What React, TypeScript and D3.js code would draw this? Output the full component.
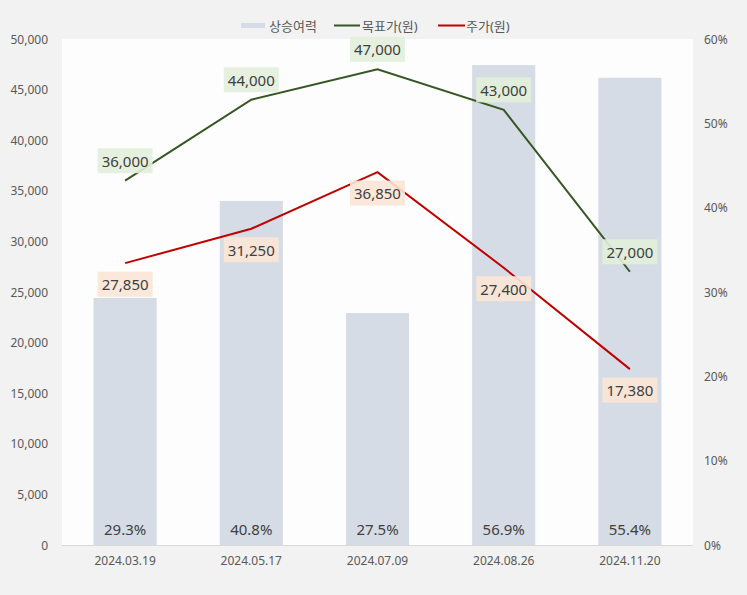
import React from "react";
import * as d3 from "d3";

const categories = ["2024.03.19", "2024.05.17", "2024.07.09", "2024.08.26", "2024.11.20"];
const upside = [29.3, 40.8, 27.5, 56.9, 55.4];
const targetPrice = [36000, 44000, 47000, 43000, 27000];
const stockPrice = [27850, 31250, 36850, 27400, 17380];
const leftTicks = [0, 5000, 10000, 15000, 20000, 25000, 30000, 35000, 40000, 45000, 50000];
const rightTicks = [0, 10, 20, 30, 40, 50, 60];

const W = 747, H = 595;
const M = { left: 62, right: 693, top: 39, bottom: 545 };
const FONT = "'Noto Sans', 'Noto Sans CJK KR', sans-serif";

export default function App() {
  const x = d3.scaleBand<string>().domain(categories).range([M.left, M.right]).paddingInner(0).paddingOuter(0);
  const yL = d3.scaleLinear().domain([0, 50000]).range([M.bottom, M.top]);
  const yR = d3.scaleLinear().domain([0, 60]).range([M.bottom, M.top]);
  const bw = x.bandwidth() * 0.5;
  const cx = (c: string) => (x(c) as number) + x.bandwidth() / 2;
  const fmt = d3.format(",");
  const line = d3.line<[number, number]>().x(d => d[0]).y(d => d[1]);
  const tPts: [number, number][] = categories.map((c, i) => [cx(c), yL(targetPrice[i])]);
  const sPts: [number, number][] = categories.map((c, i) => [cx(c), yL(stockPrice[i])]);

  const label = (key: string, px: number, py: number, text: string, fill: string) => {
    const w = 55, h = 25;
    return (
      <g key={key}>
        <rect x={px - w / 2} y={py - h / 2} width={w} height={h} fill={fill} />
        <text x={px} y={py} textAnchor="middle" dominantBaseline="central" fontSize={15} fill="#404040">{text}</text>
      </g>
    );
  };

  return (
    <svg width={W} height={H} style={{ position: "absolute", left: 0, top: 0 }} fontFamily={FONT}>
      <rect x={0} y={0} width={W} height={H} fill="#f2f2f2" />
      <rect x={M.left} y={M.top} width={M.right - M.left} height={M.bottom - M.top} fill="#fdfdfd" />
      {categories.map((c, i) => (
        <rect key={"b" + i} x={cx(c) - bw / 2} y={yR(upside[i])} width={bw} height={M.bottom - yR(upside[i])} fill="#d6dce5" />
      ))}
      <line x1={M.left} x2={M.right} y1={M.bottom + 0.5} y2={M.bottom + 0.5} stroke="#d9d9d9" strokeWidth={1} />
      {categories.map((c, i) => (
        <text key={"bl" + i} x={cx(c)} y={529} textAnchor="middle" dominantBaseline="central" fontSize={15} fill="#404040">{upside[i].toFixed(1)}%</text>
      ))}
      <path d={line(tPts) || ""} fill="none" stroke="#375623" strokeWidth={2} />
      <path d={line(sPts) || ""} fill="none" stroke="#c00000" strokeWidth={2} />
      {tPts.map((p, i) => label("t" + i, p[0], p[1] - 20, fmt(targetPrice[i]), "rgba(226,239,218,0.9)"))}
      {sPts.map((p, i) => label("s" + i, p[0], p[1] + 21, fmt(stockPrice[i]), "rgba(251,229,214,0.9)"))}
      {leftTicks.map(t => (
        <text key={"l" + t} x={48} y={yL(t)} textAnchor="end" dominantBaseline="central" fontSize={12} fill="#595959">{fmt(t)}</text>
      ))}
      {rightTicks.map(t => (
        <text key={"r" + t} x={704} y={yR(t)} textAnchor="start" dominantBaseline="central" fontSize={12} fill="#595959">{t}%</text>
      ))}
      {categories.map(c => (
        <text key={"x" + c} x={cx(c)} y={560} textAnchor="middle" dominantBaseline="central" fontSize={12} fill="#595959">{c}</text>
      ))}
      <g fontSize={13} fill="#595959">
        <rect x={241} y={23} width={24} height={5} fill="#d6dce5" />
        <text x={269} y={25.5} dominantBaseline="central">상승여력</text>
        <line x1={334} x2={360} y1={25.5} y2={25.5} stroke="#375623" strokeWidth={2} />
        <text x={362} y={25.5} dominantBaseline="central">목표가(원)</text>
        <line x1={438} x2={465} y1={25.5} y2={25.5} stroke="#c00000" strokeWidth={2} />
        <text x={466} y={25.5} dominantBaseline="central">주가(원)</text>
      </g>
    </svg>
  );
}
